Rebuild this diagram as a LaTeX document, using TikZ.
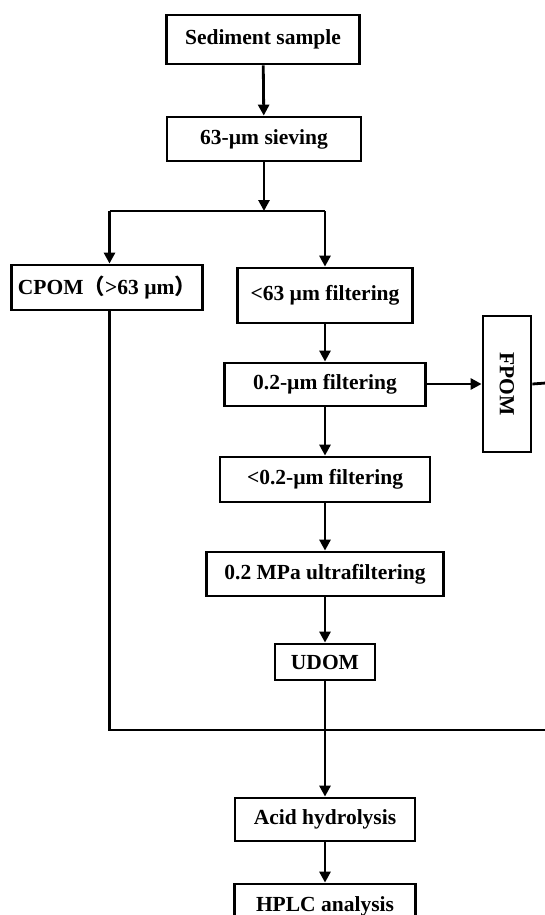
\documentclass[tikz,border=0pt]{standalone}
\usepackage{fontspec}
\setmainfont{Liberation Serif}
\newfontfamily\cjk{Noto Sans CJK SC}
\usetikzlibrary{arrows.meta}
\begin{document}
\begin{tikzpicture}[x=1pt,y=-1pt,
  box/.style={draw,line width=2.8pt,inner sep=0pt,align=center,
    font=\fontsize{21.5}{25}\selectfont\bfseries},
  conn/.style={line width=2.8pt},
  arr/.style={line width=2.8pt,-{Triangle[length=11pt,width=11pt]}}]
\clip (0,0) rectangle (545,915);
\fill[white] (0,0) rectangle (545,915);
\node[box,minimum width=193pt,minimum height=49pt] (sed) at (263,39.5) {Sediment sample};
\node[box,minimum width=194pt,minimum height=44pt] (sieve) at (264,139) {63-µm sieving};
\node[box,minimum width=191pt,minimum height=45pt] (cpom) at (107,287.5) {CPOM{\cjk （}>63 µm{\cjk ）}};
\node[box,minimum width=175pt,minimum height=55pt] (f63) at (325,295.5) {<63 µm filtering};
\node[box,minimum width=201pt,minimum height=43pt] (f02) at (325,384.5) {0.2-µm filtering};
\node[box,minimum width=48pt,minimum height=136pt] (fpom) at (507,384) {};
\node[font=\fontsize{21.5}{25}\selectfont\bfseries,rotate=-90] (fpomt) at (fpom.center) {FPOM};
\node[box,minimum width=210pt,minimum height=45pt] (f02b) at (325,479.5) {<0.2-µm filtering};
\node[box,minimum width=237pt,minimum height=44pt] (mpa) at (325,574) {0.2 MPa ultrafiltering};
\node[box,minimum width=100pt,minimum height=36pt] (udom) at (325,662) {UDOM};
\node[box,minimum width=180pt,minimum height=43pt] (acid) at (325,819.5) {Acid hydrolysis};
\node[box,minimum width=181pt,minimum height=45pt] (hplc) at (325,906.5) {HPLC analysis};
\coordinate (split) at (264,211);
\coordinate (jl) at (109.5,211);
\coordinate (jr) at (325,211);
\coordinate (fr) at (546,383);
\coordinate (bl) at (109.5,730);
\coordinate (br) at (546,730);
\draw[arr] (sed) -- (sieve);
\draw[arr] (sieve) -- (split);
\draw[conn] (jl) -- (jr);
\draw[arr] (jl) -- (jl |- cpom.north);
\draw[arr] (jr) -- (f63.north);
\draw[arr] (f63) -- (f02);
\draw[arr] (f02.east |- fpom.west) -- (fpom.west);
\draw[conn] (fpom.east) -- (fr);
\draw[arr] (f02) -- (f02b);
\draw[arr] (f02b) -- (mpa);
\draw[arr] (mpa) -- (udom);
\draw[conn] (jl |- cpom.south) -- (bl) -- (br);
\draw[arr] (udom) -- (acid);
\draw[arr] (acid) -- (hplc);
\end{tikzpicture}
\end{document}
